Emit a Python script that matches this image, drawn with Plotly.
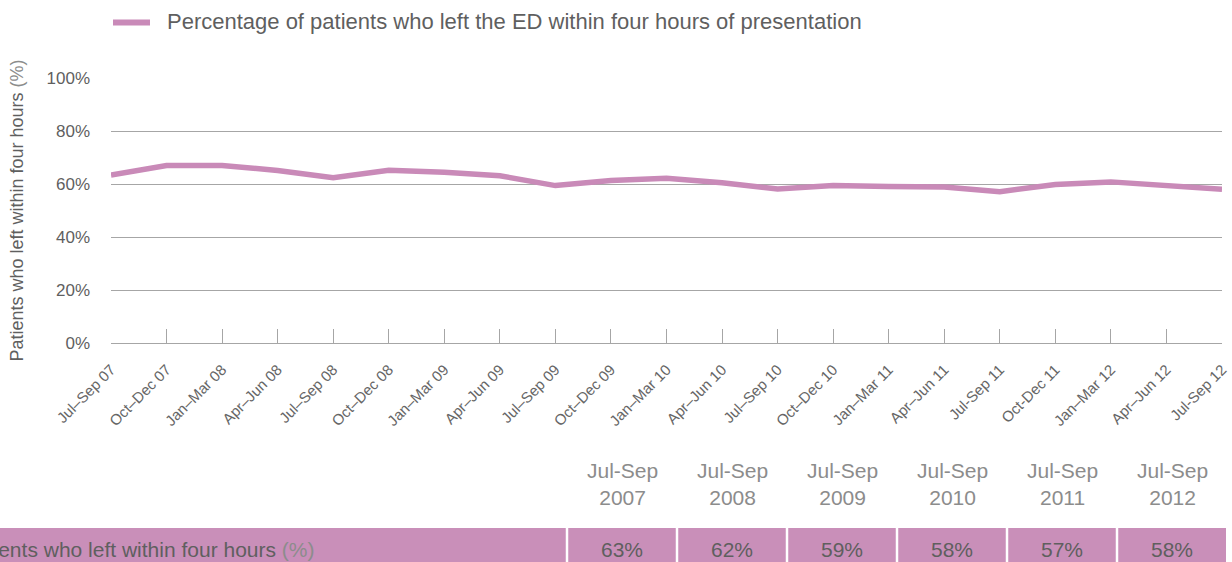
import plotly.graph_objects as go

# Quarterly share of ED patients who left within four hours
quarters = [
    "Jul–Sep 07", "Oct–Dec 07", "Jan–Mar 08", "Apr–Jun 08",
    "Jul–Sep 08", "Oct–Dec 08", "Jan–Mar 09", "Apr–Jun 09",
    "Jul–Sep 09", "Oct–Dec 09", "Jan–Mar 10", "Apr–Jun 10",
    "Jul–Sep 10", "Oct–Dec 10", "Jan–Mar 11", "Apr–Jun 11",
    "Jul-Sep 11", "Oct-Dec 11", "Jan–Mar 12", "Apr–Jun 12",
    "Jul-Sep 12",
]
pct_within_4h = [
    63.4, 67.0, 67.0, 65.1,
    62.4, 65.2, 64.4, 63.1,
    59.4, 61.3, 62.2, 60.5,
    58.1, 59.4, 59.1, 58.9,
    57.1, 59.8, 60.8, 59.5,
    58.0,
]
series_name = "Percentage of patients who left the ED within four hours of presentation"

# Summary table: same quarter each year
summary_periods = ["Jul-Sep<br>2007", "Jul-Sep<br>2008", "Jul-Sep<br>2009",
                   "Jul-Sep<br>2010", "Jul-Sep<br>2011", "Jul-Sep<br>2012"]
summary_idx = [0, 4, 8, 12, 16, 20]

y_ticks = [0, 20, 40, 60, 80, 100]
y_tick_text = [f"{v}%" for v in y_ticks]

PINK = "#C98AB8"
TABLE_PINK = "#C98FB9"
GRID = "#A6A6A6"
TEXT = "#5F5F5F"
LIGHT = "#8C8C8C"
FONT = "Liberation Sans, Arial, sans-serif"

W, H = 1232, 562
L, R, T, B = 111, 10, 78, 219
PW, PH = W - L - R, H - T - B


def px(x):
    return (x - L) / PW


def py(y):
    return (H - B - y) / PH


x_idx = list(range(len(quarters)))

fig = go.Figure()
fig.add_trace(go.Scatter(
    x=x_idx, y=pct_within_4h, mode="lines", name=series_name,
    line=dict(color=PINK, width=5.5), hoverinfo="skip", showlegend=False,
))

shapes = []
annotations = []

# Legend key
shapes.append(dict(type="line", xref="paper", yref="paper",
                   x0=px(113), x1=px(150), y0=py(22.5), y1=py(22.5),
                   line=dict(color=PINK, width=6)))
annotations.append(dict(text=series_name, xref="paper", yref="paper",
                        x=px(165), y=py(21.5), xanchor="left", yanchor="middle",
                        showarrow=False, font=dict(family=FONT, size=22, color=TEXT)))

# Table row background and cell dividers
row_top, row_bot = 528, 566
shapes.append(dict(type="rect", xref="paper", yref="paper",
                   x0=px(-5), x1=px(1226), y0=py(row_bot), y1=py(row_top),
                   fillcolor=TABLE_PINK, line=dict(width=0), layer="above"))
cell_w = 110
first_edge = 567
for k in range(len(summary_periods)):
    xe = first_edge + k * cell_w
    shapes.append(dict(type="line", xref="paper", yref="paper",
                       x0=px(xe), x1=px(xe), y0=py(row_bot), y1=py(row_top),
                       line=dict(color="white", width=2.5), layer="above"))
    xc = xe + cell_w / 2
    annotations.append(dict(text=summary_periods[k], xref="paper", yref="paper",
                            x=px(xc), y=py(484), xanchor="center", yanchor="middle",
                            showarrow=False, font=dict(family=FONT, size=21, color=LIGHT)))
    val = pct_within_4h[summary_idx[k]]
    annotations.append(dict(text=f"{round(val)}%", xref="paper", yref="paper",
                            x=px(xc), y=py(549), xanchor="center", yanchor="middle",
                            showarrow=False, font=dict(family=FONT, size=21, color=TEXT)))

annotations.append(dict(
    text=f'Patients who left within four hours <span style="color:{LIGHT}">(%)</span>',
    xref="paper", yref="paper", x=px(317), y=py(549), xanchor="right", yanchor="middle",
    showarrow=False, font=dict(family=FONT, size=21, color=TEXT)))

fig.update_layout(
    width=W, height=H,
    margin=dict(l=L, r=R, t=T, b=B, autoexpand=False),
    paper_bgcolor="white", plot_bgcolor="white",
    font=dict(family=FONT, color=TEXT),
    showlegend=False,
    xaxis=dict(
        range=[0, len(quarters) - 1], automargin=False,
        tickmode="array", tickvals=x_idx, ticktext=quarters,
        tickangle=-45, tickfont=dict(family=FONT, size=15, color="#666666"),
        ticks="inside", ticklen=14, tickcolor=GRID, tickwidth=1,
        ticklabelstandoff=11,
        showline=True, linecolor=GRID, linewidth=1.2,
        showgrid=False, zeroline=False,
    ),
    xaxis2=dict(
        overlaying="x", anchor="y", side="bottom", automargin=False,
        range=[0, len(quarters) - 1],
        tickmode="array", tickvals=summary_idx, showticklabels=False,
        ticks="inside", ticklen=26, tickcolor=GRID, tickwidth=1,
        showgrid=False, zeroline=False, showline=False,
    ),
    yaxis=dict(
        range=[0, 100], automargin=False,
        tickmode="array", tickvals=y_ticks, ticktext=y_tick_text,
        tickfont=dict(family=FONT, size=17, color=TEXT),
        showgrid=True, gridcolor=GRID, gridwidth=1,
        zeroline=False, showline=False, ticks="", ticklabelstandoff=20,
        title=dict(text=f'Patients who left within four hours <span style="color:{LIGHT}">(%)</span>',
                   font=dict(family=FONT, size=18, color=TEXT), standoff=18),
    ),
    shapes=shapes,
    annotations=annotations,
)

fig.write_html("out.html")
